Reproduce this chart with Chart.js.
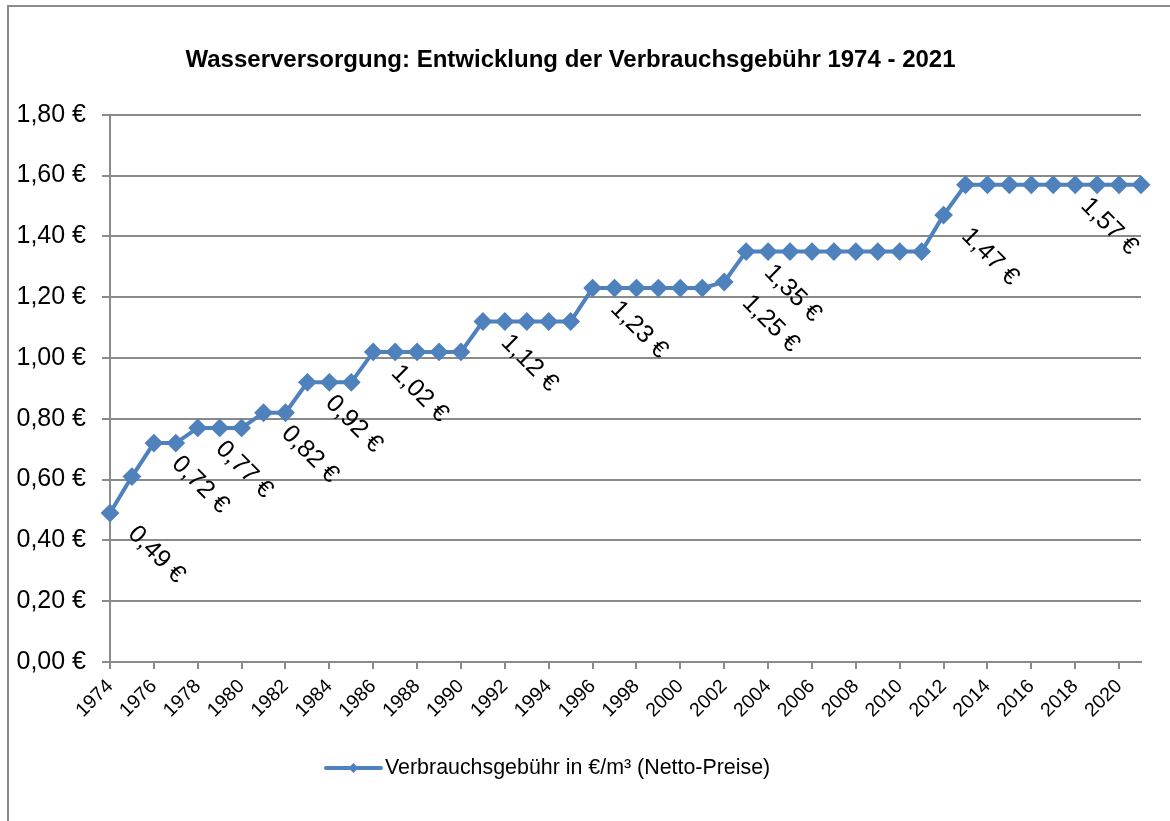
<!DOCTYPE html>
<html>
<head>
<meta charset="utf-8">
<script src="https://cdn.jsdelivr.net/npm/chart.js@4/dist/chart.umd.min.js"></script>
<style>
  html, body { margin: 0; padding: 0; background: #fff; }
  #wrap { width: 1170px; height: 821px; position: relative; }
</style>
</head>
<body>
<div id="wrap"><canvas id="chart" width="1170" height="821"></canvas></div>
<script>
// Jahre (Kategorien)
const years = [
  "1974", "1975", "1976", "1977", "1978", "1979", "1980", "1981", "1982", "1983",
  "1984", "1985", "1986", "1987", "1988", "1989", "1990", "1991", "1992", "1993",
  "1994", "1995", "1996", "1997", "1998", "1999", "2000", "2001", "2002", "2003",
  "2004", "2005", "2006", "2007", "2008", "2009", "2010", "2011", "2012", "2013",
  "2014", "2015", "2016", "2017", "2018", "2019", "2020", "2021"
];

// Verbrauchsgebühr in €/m³ (Netto)
const values = [
  0.49, 0.61, 0.72, 0.72, 0.77, 0.77, 0.77, 0.82, 0.82, 0.92,
  0.92, 0.92, 1.02, 1.02, 1.02, 1.02, 1.02, 1.12, 1.12, 1.12,
  1.12, 1.12, 1.23, 1.23, 1.23, 1.23, 1.23, 1.23, 1.25, 1.35,
  1.35, 1.35, 1.35, 1.35, 1.35, 1.35, 1.35, 1.35, 1.47, 1.57,
  1.57, 1.57, 1.57, 1.57, 1.57, 1.57, 1.57, 1.57
];

// Jahre mit Datenbeschriftung
const labelYears = ["1974", "1976", "1978", "1981", "1983", "1986", "1991", "1996", "2002", "2003", "2012", "2021"];

// y-Achse
const yTicks = [0, 0.2, 0.4, 0.6, 0.8, 1.0, 1.2, 1.4, 1.6, 1.8];

const seriesName = "Verbrauchsgebühr in €/m³ (Netto-Preise)";
const blue = "#4F81BD";
const gray = "#8a8a8a";
const font = 'Arial, "Liberation Sans", sans-serif';

function euro(v) {
  return v.toFixed(2).replace(".", ",") + " €";
}

// Rahmen um das Diagramm
const frame = {
  id: "frame",
  beforeDraw(chart) {
    const ctx = chart.ctx;
    ctx.save();
    ctx.fillStyle = "#fff";
    ctx.fillRect(0, 0, chart.width, chart.height);
    ctx.strokeStyle = gray;
    ctx.lineWidth = 2;
    ctx.strokeRect(8, 6, chart.width + 20, chart.height + 20);
    ctx.restore();
  }
};

// gedrehte Werte an einzelnen Punkten
const pointLabels = {
  id: "pointLabels",
  afterDatasetsDraw(chart) {
    const ctx = chart.ctx;
    const meta = chart.getDatasetMeta(0);
    const area = chart.chartArea;
    ctx.save();
    ctx.font = "25px " + font;
    ctx.fillStyle = "#000";
    ctx.textBaseline = "alphabetic";
    ctx.textAlign = "left";
    labelYears.forEach((y) => {
      const i = years.indexOf(y);
      const pt = meta.data[i];
      const text = euro(values[i]);
      const w = ctx.measureText(text).width;
      let x = pt.x + 17;
      const yy = pt.y + 22;
      const reach = x + (w + 17) * Math.SQRT1_2;
      if (reach > area.right) x -= reach - area.right;
      ctx.save();
      ctx.translate(x, yy);
      ctx.rotate(Math.PI / 4);
      ctx.fillText(text, 0, 0);
      ctx.restore();
    });
    ctx.restore();
  }
};

// Legende unten
const legendLine = {
  id: "legendLine",
  afterDraw(chart) {
    const ctx = chart.ctx;
    const ds = chart.data.datasets[0];
    const y = 768;
    const x0 = 326;
    const x1 = 381;
    ctx.save();
    ctx.strokeStyle = ds.borderColor;
    ctx.lineWidth = 4;
    ctx.lineCap = "round";
    ctx.beginPath();
    ctx.moveTo(x0, y);
    ctx.lineTo(x1, y);
    ctx.stroke();
    const cx = (x0 + x1) / 2;
    ctx.fillStyle = ds.borderColor;
    ctx.beginPath();
    ctx.moveTo(cx - 5, y);
    ctx.lineTo(cx, y - 5);
    ctx.lineTo(cx + 5, y);
    ctx.lineTo(cx, y + 5);
    ctx.closePath();
    ctx.fill();
    ctx.font = "21.4px " + font;
    ctx.fillStyle = "#000";
    ctx.textBaseline = "middle";
    ctx.fillText(ds.label, x1 + 4, y);
    ctx.restore();
  }
};

const ctx = document.getElementById("chart");

new Chart(ctx, {
  type: "line",
  data: {
    labels: years,
    datasets: [
      {
        label: seriesName,
        data: values,
        borderColor: blue,
        backgroundColor: blue,
        borderWidth: 4,
        pointStyle: "rectRot",
        pointRadius: 8,
        pointBorderWidth: 2,
        pointBackgroundColor: blue,
        pointBorderColor: blue,
        tension: 0,
      },
    ],
  },
  options: {
    responsive: false,
    animation: false,
    layout: {
      padding: { left: 0, right: 29, top: 0, bottom: 89 },
    },
    scales: {
      x: {
        offset: false,
        afterFit: (scale) => {
          scale.height = 70;
        },
        border: { color: gray, width: 2 },
        grid: {
          drawOnChartArea: false,
          drawTicks: true,
          tickLength: 7,
          color: gray,
          lineWidth: 2,
        },
        ticks: {
          autoSkip: false,
          maxRotation: 45,
          minRotation: 45,
          padding: 6,
          color: "#000",
          font: { family: font, size: 19.5 },
          callback: function (val, index) {
            return index % 2 === 0 ? years[index] : null;
          },
        },
      },
      y: {
        min: 0,
        max: 1.8,
        afterFit: (scale) => {
          scale.width = 110;
        },
        afterBuildTicks: (scale) => {
          scale.ticks = yTicks.map((v) => ({ value: v }));
        },
        border: { color: gray, width: 2 },
        grid: {
          color: gray,
          lineWidth: 2,
          tickLength: 8,
        },
        ticks: {
          padding: 16,
          color: "#000",
          font: { family: font, size: 25 },
          callback: (v) => euro(v),
        },
      },
    },
    plugins: {
      legend: { display: false },
      tooltip: { enabled: false },
      title: {
        display: true,
        text: "Wasserversorgung: Entwicklung der Verbrauchsgebühr 1974 - 2021",
        color: "#000",
        font: { family: font, size: 24, weight: "bold" },
        padding: { top: 46, bottom: 40 },
      },
    },
  },
  plugins: [frame, pointLabels, legendLine],
});
</script>
</body>
</html>
